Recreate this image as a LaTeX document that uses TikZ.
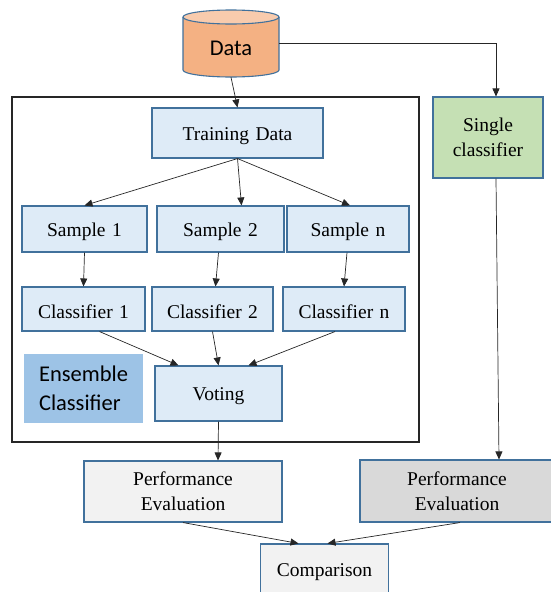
\documentclass[tikz,border=0pt]{standalone}
\usepackage{fontspec}
\setmainfont{Liberation Serif}
\newfontfamily\calib{Carlito}
\usetikzlibrary{arrows.meta}
\definecolor{bord}{HTML}{41719C}
\definecolor{bluefill}{HTML}{DEEBF7}
\definecolor{ensfill}{HTML}{9DC3E6}
\definecolor{greenfill}{HTML}{C5E0B4}
\definecolor{lgray}{HTML}{F2F2F2}
\definecolor{mgray}{HTML}{D9D9D9}
\definecolor{cylbody}{HTML}{F4B183}
\definecolor{cyltop}{HTML}{F8CBAD}
\definecolor{linec}{HTML}{262626}
\tikzset{
  box/.style={draw=bord, line width=1.1pt, fill=bluefill, inner sep=0pt, align=center,
    font=\fontsize{19.5}{25}\selectfont, execute at begin node={\rule{0pt}{19pt}}},
  conn/.style={draw=linec, line width=0.7pt, -{Triangle[length=8pt,width=7pt]}},
}
\begin{document}
\begin{tikzpicture}[x=1pt,y=1pt]
\useasboundingbox (0,0) rectangle (550,-592);
% cylinder
\fill[cylbody] (183,-17) -- (183,-70) arc[start angle=180,end angle=360,x radius=48,y radius=7] -- (279,-17) -- cycle;
\draw[bord, line width=1.1pt] (183,-17) -- (183,-70) arc[start angle=180,end angle=360,x radius=48,y radius=7] -- (279,-17);
\draw[bord, line width=1.1pt, fill=cyltop] (231,-17) ellipse[x radius=48, y radius=7];
\node[minimum width=96pt, minimum height=67pt, inner sep=0pt, font=\calib\fontsize{22.5}{26}\selectfont] (data) at (231,-43.5) {\raisebox{-11.5pt}[0pt][0pt]{Data}};
% frame
\draw[linec, line width=1.5pt] (12,-97) rectangle (419,-442);
% nodes
\node[box, minimum width=171pt, minimum height=50pt] (train) at (237.5,-133) {Training\,\,Data};
\node[box, minimum width=125pt, minimum height=46pt] (s1) at (84.5,-229) {Sample\,\,1};
\node[box, minimum width=127pt, minimum height=46pt] (s2) at (220.5,-229) {Sample\,\,2};
\node[box, minimum width=122pt, minimum height=46pt] (sn) at (348,-229) {Sample\,\,n};
\node[box, minimum width=123pt, minimum height=44pt] (c1) at (83.5,-309) {Classifier\,\,1};
\node[box, minimum width=121pt, minimum height=44pt] (c2) at (212.5,-309) {Classifier\,\,2};
\node[box, minimum width=122pt, minimum height=44pt] (cn) at (344,-309) {Classifier\,\,n};
\node[box, minimum width=127pt, minimum height=55pt] (vote) at (218.5,-393.5) {Voting};
\node[fill=ensfill, minimum width=119pt, minimum height=69pt, inner sep=0pt, align=left,
  font=\calib\fontsize{22.5}{29}\selectfont] (ens) at (83.5,-388.5) {Ensemble\\Classifier};
\node[box, fill=greenfill, minimum width=110pt, minimum height=81pt] (single) at (488,-137.5) {Single\\classifier};
\node[box, fill=lgray, minimum width=198pt, minimum height=61pt] (perf1) at (183,-491.5) {Performance\\Evaluation};
\node[box, fill=mgray, minimum width=194pt, minimum height=62pt] (perf2) at (457,-491) {Performance\\Evaluation};
\node[box, fill=lgray, minimum width=128pt, minimum height=50pt] (comp) at (324.5,-569) {Comparison};
% connectors
\draw[conn] (data.east) -| ([xshift=8pt]single.north);
\draw[conn] (data.south) -- (train.north);
\draw[conn] (train.south) -- (s1.north);
\draw[conn] (train.south) -- ([xshift=21pt]s2.north);
\draw[conn] (train.south) -- ([xshift=2pt]sn.north);
\draw[conn] (s1.south) -- (c1.north);
\draw[conn] ([xshift=-2pt]s2.south) -- ([xshift=3pt]c2.north);
\draw[conn] ([xshift=-1pt]sn.south) -- (cn.north);
\draw[conn] ([xshift=16pt]c1.south) -- ([xshift=-40pt]vote.north);
\draw[conn] (c2.south) -- (vote.north);
\draw[conn] ([xshift=-9pt]cn.south) -- ([xshift=30pt]vote.north);
\draw[conn] (vote.south) -- ([xshift=35pt]perf1.north);
\draw[conn] ([xshift=8pt]single.south) -- ([xshift=42pt]perf2.north);
\draw[conn] (perf1.south) -- ([xshift=-26pt]comp.north);
\draw[conn] ([xshift=3pt]perf2.south) -- ([xshift=3pt]comp.north);
\end{tikzpicture}
\end{document}
